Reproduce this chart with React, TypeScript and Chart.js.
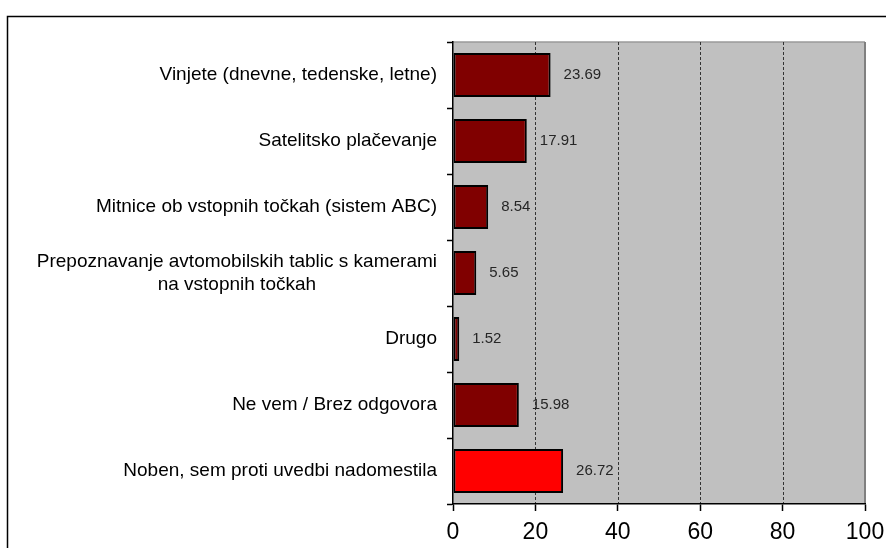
import React, { useEffect, useRef } from "react";
import { Chart, registerables } from "chart.js";

Chart.register(...registerables);

const categories: string[][] = [
  ["Vinjete (dnevne, tedenske, letne)"],
  ["Satelitsko plačevanje"],
  ["Mitnice ob vstopnih točkah (sistem ABC)"],
  ["Prepoznavanje avtomobilskih tablic s kamerami", "na vstopnih točkah"],
  ["Drugo"],
  ["Ne vem / Brez odgovora"],
  ["Noben, sem proti uvedbi nadomestila"],
];
const values: number[] = [23.69, 17.91, 8.54, 5.65, 1.52, 15.98, 26.72];
const barColors: string[] = ["#800000", "#800000", "#800000", "#800000", "#800000", "#800000", "#FF0000"];
const xTicks: number[] = [0, 20, 40, 60, 80, 100];

const FONT = "'Liberation Sans', Arial, sans-serif";

const framePlugin = {
  id: "frame",
  beforeDraw(chart: any) {
    const { ctx, chartArea } = chart;
    ctx.save();
    ctx.fillStyle = "#fff";
    ctx.fillRect(0, 0, chart.width, chart.height);
    // outer frame
    ctx.strokeStyle = "#000";
    ctx.lineWidth = 1.5;
    ctx.beginPath();
    ctx.moveTo(chart.width + 2, 16.5);
    ctx.lineTo(7.5, 16.5);
    ctx.lineTo(7.5, chart.height + 2);
    ctx.stroke();
    // plot background
    const { left, top, right, bottom } = chartArea;
    ctx.fillStyle = "#C0C0C0";
    ctx.fillRect(left, top, right - left, bottom - top);
    ctx.strokeStyle = "#9a9a9a";
    ctx.lineWidth = 1.5;
    ctx.beginPath();
    ctx.moveTo(left, top);
    ctx.lineTo(right, top);
    ctx.stroke();
    ctx.strokeStyle = "#808080";
    ctx.lineWidth = 2;
    ctx.beginPath();
    ctx.moveTo(right, top);
    ctx.lineTo(right, bottom);
    ctx.stroke();
    // dashed grid lines
    const xs = chart.scales.x;
    ctx.strokeStyle = "#333";
    ctx.lineWidth = 1;
    ctx.setLineDash([3, 2]);
    for (const v of xTicks) {
      if (v === 0 || v === 100) continue;
      const px = Math.round(xs.getPixelForValue(v)) + 0.5;
      ctx.beginPath();
      ctx.moveTo(px, top);
      ctx.lineTo(px, bottom);
      ctx.stroke();
    }
    ctx.restore();
  },
};

const labelsPlugin = {
  id: "labels",
  afterDatasetsDraw(chart: any) {
    const { ctx } = chart;
    const ys = chart.scales.y;
    ctx.save();
    // value labels
    const meta = chart.getDatasetMeta(0);
    ctx.font = `15px ${FONT}`;
    ctx.fillStyle = "#262626";
    ctx.textAlign = "left";
    ctx.textBaseline = "middle";
    meta.data.forEach((el: any, i: number) => {
      ctx.fillText(values[i].toFixed(2), el.x + 13, el.y);
    });
    // category labels
    ctx.font = `19px ${FONT}`;
    ctx.fillStyle = "#000";
    const rightX = 437;
    const lh = 23;
    categories.forEach((lines, i) => {
      const cy = ys.getPixelForValue(i);
      if (lines.length === 1) {
        ctx.textAlign = "right";
        ctx.fillText(lines[0], rightX, cy);
      } else {
        const widest = Math.max(...lines.map((l) => ctx.measureText(l).width));
        const cx = rightX - widest / 2;
        ctx.textAlign = "center";
        lines.forEach((l, k) => {
          ctx.fillText(l, cx, cy - ((lines.length - 1) / 2) * lh + k * lh);
        });
      }
    });
    ctx.restore();
  },
};

export default function App() {
  const ref = useRef<HTMLCanvasElement | null>(null);
  useEffect(() => {
    if (!ref.current) return;
    const chart = new Chart(ref.current, {
      type: "bar",
      data: {
        labels: categories.map((c) => c.join(" ")),
        datasets: [
          {
            data: values,
            backgroundColor: barColors,
            borderColor: "#000",
            borderWidth: 2,
            borderSkipped: false,
            barPercentage: 0.67,
            categoryPercentage: 1,
          },
        ],
      },
      options: {
        indexAxis: "y",
        responsive: false,
        animation: false,
        devicePixelRatio: 1,
        layout: { padding: { top: 42, right: 21, left: 0, bottom: 0 } },
        plugins: { legend: { display: false }, tooltip: { enabled: false } },
        scales: {
          x: {
            type: "linear",
            min: 0,
            max: 100,
            afterBuildTicks: (scale: any) => {
              scale.ticks = xTicks.map((v) => ({ value: v }));
            },
            afterFit: (scale: any) => {
              scale.height = 44;
              scale.paddingLeft = 0;
              scale.paddingRight = 0;
            },
            ticks: {
              color: "#000",
              font: { family: FONT, size: 23 },
              padding: 8,
              maxRotation: 0,
            },
            grid: {
              drawOnChartArea: false,
              drawTicks: true,
              tickLength: 7,
              tickColor: "#000",
              tickWidth: 1.5,
            },
            border: { display: true, color: "#000", width: 1.5 },
          },
          y: {
            type: "category",
            offset: true,
            afterFit: (scale: any) => {
              scale.width = 453;
            },
            ticks: { display: false },
            grid: {
              offset: true,
              drawOnChartArea: false,
              drawTicks: true,
              tickLength: 6,
              tickColor: "#000",
              tickWidth: 1.5,
            },
            border: { display: true, color: "#000", width: 1.5 },
          },
        },
      },
      plugins: [framePlugin, labelsPlugin],
    } as any);
    return () => chart.destroy();
  }, []);
  return (
    <canvas
      ref={ref}
      width={886}
      height={548}
      style={{ position: "fixed", left: 0, top: 0, width: 886, height: 548 }}
    />
  );
}
